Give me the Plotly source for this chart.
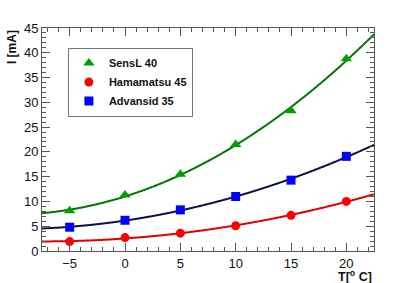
import numpy as np
import plotly.graph_objects as go

temps = [-5, 0, 5, 10, 15, 20]
sensl = [8.1, 11.3, 15.5, 21.5, 28.3, 38.8]
hamamatsu = [1.9, 2.7, 3.6, 5.1, 7.2, 10.0]
advansid = [4.8, 6.2, 8.3, 11.0, 14.3, 19.1]
series_names = ["SensL 40", "Hamamatsu 45", "Advansid 35"]
x_ticks = [-5, 0, 5, 10, 15, 20]
y_ticks = [0, 5, 10, 15, 20, 25, 30, 35, 40, 45]

x_range = [-7.5, 22.5]
y_range = [0, 45]

styles = [
    dict(mc="#00a000", lc="#007800", sym="triangle-up", size=10),
    dict(mc="#ff0000", lc="#e00000", sym="circle", size=9),
    dict(mc="#0000ff", lc="#101048", sym="square", size=9),
]

fig = go.Figure()
xf = np.linspace(x_range[0], x_range[1], 300)
for data, st in zip([sensl, hamamatsu, advansid], styles):
    coef = np.polyfit(temps, data, 2)
    fig.add_trace(go.Scatter(x=xf, y=np.polyval(coef, xf), mode="lines",
                             line=dict(color=st["lc"], width=2, shape="spline"),
                             showlegend=False, hoverinfo="skip"))
for name, data, st in zip(series_names, [sensl, hamamatsu, advansid], styles):
    fig.add_trace(go.Scatter(x=temps, y=data, mode="markers", name="<b>" + name + "</b>",
                             marker=dict(color=st["mc"], symbol=st["sym"], size=st["size"],
                                         line=dict(width=0))))

axis_common = dict(
    showgrid=False, zeroline=False, showline=True, linecolor="#555", linewidth=1,
    mirror="allticks", ticks="inside", ticklen=8, tickcolor="#555", tickwidth=1,
    tickfont=dict(family="Liberation Sans, Arial", size=13, color="#111"),
)

fig.update_xaxes(range=x_range, tickvals=x_ticks, **axis_common,
                 minor=dict(ticks="inside", dtick=1, ticklen=4, tickcolor="#555", tick0=0))
fig.update_yaxes(range=y_range, tickvals=y_ticks, **axis_common,
                 minor=dict(ticks="inside", dtick=1, ticklen=4, tickcolor="#555", tick0=0))

fig.add_annotation(text="<b>I [mA]</b>", xref="paper", yref="paper", x=-0.09, y=1.0,
                   textangle=-90, showarrow=False, xanchor="center", yanchor="top",
                   font=dict(family="Liberation Sans, Arial", size=12, color="#111"))
fig.add_annotation(text="<b>T[<sup>o</sup> C]</b>", xref="paper", yref="paper", x=1.0, y=-0.112,
                   showarrow=False, xanchor="right", yanchor="middle",
                   font=dict(family="Liberation Sans, Arial", size=12.5, color="#111"))

fig.update_layout(
    width=415, height=283,
    margin=dict(l=42, r=41, t=28, b=29),
    plot_bgcolor="white", paper_bgcolor="white",
    legend=dict(x=0.078, y=0.912, xanchor="left", yanchor="top",
                bordercolor="#777", borderwidth=1, bgcolor="white",
                font=dict(family="Liberation Sans, Arial", size=11, color="#111"),
                traceorder="normal"),
)
fig.write_html("out.html", config={"displayModeBar": False},
               post_script="document.body.style.margin='0';")
